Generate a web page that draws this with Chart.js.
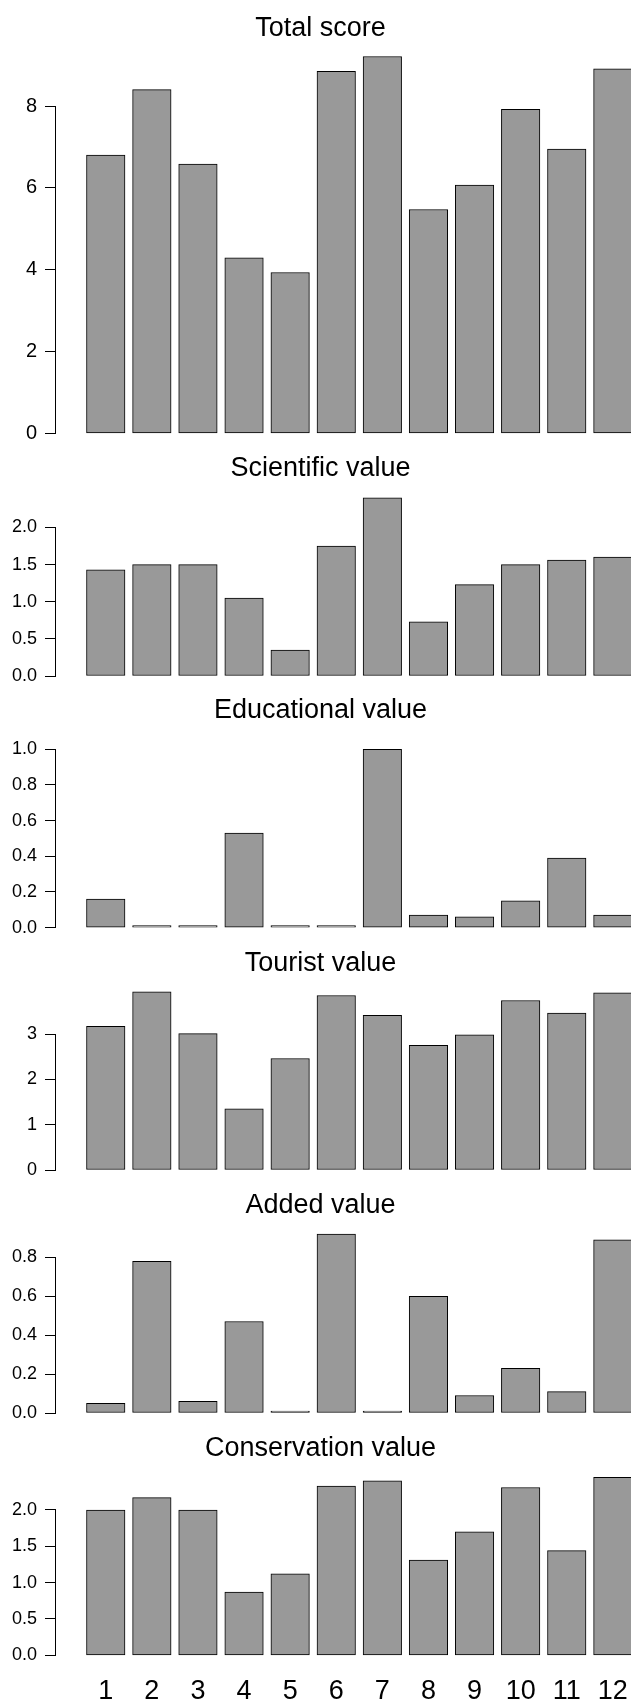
<!DOCTYPE html>
<html>
<head>
<meta charset="utf-8">
<script src="https://cdn.jsdelivr.net/npm/chart.js@4/dist/chart.umd.min.js"></script>
<style>
  html, body { margin: 0; padding: 0; background: #ffffff; overflow: hidden; }
  body { width: 631px; height: 1701px; position: relative; }
  canvas { position: absolute; left: 0; }
</style>
</head>
<body>
<script>
// ---- data -------------------------------------------------------------
const sites = [1, 2, 3, 4, 5, 6, 7, 8, 9, 10, 11, 12];

const totalScore        = [6.80, 8.40, 6.58, 4.29, 3.93, 8.85, 9.21, 5.47, 6.07, 7.92, 6.95, 8.91];
const scientificValue   = [1.43, 1.50, 1.50, 1.05, 0.35, 1.75, 2.40, 0.73, 1.23, 1.50, 1.56, 1.60];
const educationalValue  = [0.16, 0.01, 0.00, 0.53, 0.00, 0.00, 1.00, 0.07, 0.06, 0.15, 0.39, 0.07];
const touristValue      = [3.17, 3.93, 3.01, 1.35, 2.46, 3.85, 3.41, 2.75, 2.98, 3.74, 3.46, 3.91];
const addedValue        = [0.05, 0.78, 0.06, 0.47, 0.00, 0.92, 0.00, 0.60, 0.09, 0.23, 0.11, 0.89];
const conservationValue = [2.00, 2.17, 2.00, 0.87, 1.12, 2.33, 2.40, 1.31, 1.70, 2.31, 1.44, 2.45];

const totalTicks        = ["0", "2", "4", "6", "8"];
const scientificTicks   = ["0.0", "0.5", "1.0", "1.5", "2.0"];
const educationalTicks  = ["0.0", "0.2", "0.4", "0.6", "0.8", "1.0"];
const touristTicks      = ["0", "1", "2", "3"];
const addedTicks        = ["0.0", "0.2", "0.4", "0.6", "0.8"];
const conservationTicks = ["0.0", "0.5", "1.0", "1.5", "2.0"];

// ---- layout & style ---------------------------------------------------
const FONT = "'Liberation Sans', Arial, Helvetica, sans-serif";
const TITLE_SIZE = 27;
const MIDDLE_TO_BASELINE = 0.31;   // 'middle' baseline -> alphabetic baseline, in em
const CANVAS_W = 631;
const PAD_LEFT = 10;
const Y_AXIS_W = 45;               // chart area starts at x = 55
const BAR_PITCH = 46.1;
const FIRST_BAR_CENTER = 105.75;
const PLOT_LEFT = PAD_LEFT + Y_AXIS_W;
const PLOT_RIGHT = CANVAS_W;
const X_MIN = sites[0] - (FIRST_BAR_CENTER - PLOT_LEFT) / BAR_PITCH;
const X_MAX = X_MIN + (PLOT_RIGHT - PLOT_LEFT) / BAR_PITCH;

const panels = [
  { title: 'Total score',        values: totalScore,        ticks: totalTicks,        yMax: 9.5,
    top: 0,    height: 460, titleBaseline: 37.3,  zeroY: 433.3,  unitPx: 40.91,  tickSize: 20 },
  { title: 'Scientific value',   values: scientificValue,   ticks: scientificTicks,   yMax: 2.5,
    top: 450,  height: 255, titleBaseline: 477.3, zeroY: 676.0,  unitPx: 74.25,  tickSize: 18 },
  { title: 'Educational value',  values: educationalValue,  ticks: educationalTicks,  yMax: 1.1,
    top: 690,  height: 265, titleBaseline: 719.3, zeroY: 927.6,  unitPx: 178.3,  tickSize: 18 },
  { title: 'Tourist value',      values: touristValue,      ticks: touristTicks,      yMax: 4.1,
    top: 940,  height: 255, titleBaseline: 971.7, zeroY: 1170.0, unitPx: 45.33,  tickSize: 18 },
  { title: 'Added value',        values: addedValue,        ticks: addedTicks,        yMax: 0.95,
    top: 1180, height: 258, titleBaseline: 1214,  zeroY: 1413.0, unitPx: 194.6,  tickSize: 18 },
  { title: 'Conservation value', values: conservationValue, ticks: conservationTicks, yMax: 2.6,
    top: 1425, height: 276, titleBaseline: 1457,  zeroY: 1655.3, unitPx: 72.65,  tickSize: 18 }
];

// y axis line that runs only from the lowest to the highest tick
const axisSpine = {
  id: 'axisSpine',
  afterDraw(chart) {
    const s = chart.scales.y;
    const t = s.ticks;
    if (!t.length) return;
    const ctx = chart.ctx;
    const x = Math.round(s.right - 0.5) + 0.5;
    const yA = Math.round(s.getPixelForValue(t[0].value) - 0.5) + 0.5;
    const yB = Math.round(s.getPixelForValue(t[t.length - 1].value) - 0.5) + 0.5;
    ctx.save();
    ctx.strokeStyle = '#000';
    ctx.lineWidth = 1;
    ctx.beginPath();
    ctx.moveTo(x, yA + 0.5);
    ctx.lineTo(x, yB - 0.5);
    ctx.stroke();
    ctx.restore();
  }
};

panels.forEach((p, idx) => {
  const isLast = idx === panels.length - 1;
  const canvas = document.createElement('canvas');
  canvas.width = CANVAS_W;
  canvas.height = p.height;
  canvas.style.top = p.top + 'px';
  canvas.style.width = CANVAS_W + 'px';
  canvas.style.height = p.height + 'px';
  document.body.appendChild(canvas);

  const zeroLocal = p.zeroY - p.top;
  const chartTop = zeroLocal - p.yMax * p.unitPx;
  const titleMid = p.titleBaseline - p.top - MIDDLE_TO_BASELINE * TITLE_SIZE;
  const titlePadTop = titleMid - TITLE_SIZE / 2;
  const titlePadBottom = Math.max(0, chartTop - titlePadTop - TITLE_SIZE);
  const below = p.height - zeroLocal;

  new Chart(canvas, {
    type: 'bar',
    data: {
      datasets: [{
        data: p.values.map((v, i) => ({ x: sites[i], y: v })),
        backgroundColor: '#999999',
        borderColor: '#000000',
        borderWidth: 1,
        borderSkipped: false,
        barThickness: 38.5,
        minBarLength: 2,
        clip: false
      }]
    },
    options: {
      responsive: false,
      animation: false,
      devicePixelRatio: 1,
      events: [],
      layout: { padding: { left: PAD_LEFT, right: 0, top: 0, bottom: isLast ? 0 : below } },
      plugins: {
        legend: { display: false },
        tooltip: { enabled: false },
        title: {
          display: true,
          text: p.title,
          color: '#000',
          font: { family: FONT, size: TITLE_SIZE, weight: 'normal', lineHeight: 1 },
          padding: { top: titlePadTop, bottom: titlePadBottom }
        }
      },
      scales: {
        x: {
          type: 'linear',
          offset: false,
          min: X_MIN,
          max: X_MAX,
          display: isLast,
          afterBuildTicks: s => { s.ticks = sites.map(v => ({ value: v })); },
          afterFit: s => {
            s.height = isLast ? below : 0;
            s.paddingLeft = 0;
            s.paddingRight = 0;
          },
          grid: { display: false, drawTicks: false, offset: false },
          border: { display: false },
          ticks: {
            color: '#000',
            font: { family: FONT, size: 27 },
            padding: 20,
            autoSkip: false,
            maxRotation: 0,
            minRotation: 0,
            callback: (v, i) => String(sites[i])
          }
        },
        y: {
          type: 'linear',
          min: 0,
          max: p.yMax,
          bounds: 'data',
          afterBuildTicks: s => { s.ticks = p.ticks.map(t => ({ value: parseFloat(t) })); },
          afterFit: s => { s.width = Y_AXIS_W; },
          grid: { drawOnChartArea: false, drawTicks: true, tickLength: 10, color: '#000', lineWidth: 1 },
          border: { display: false },
          ticks: {
            color: '#000',
            font: { family: FONT, size: p.tickSize },
            padding: 8,
            autoSkip: false,
            callback: (v, i) => p.ticks[i]
          }
        }
      }
    },
    plugins: [axisSpine]
  });
});
</script>
</body>
</html>
